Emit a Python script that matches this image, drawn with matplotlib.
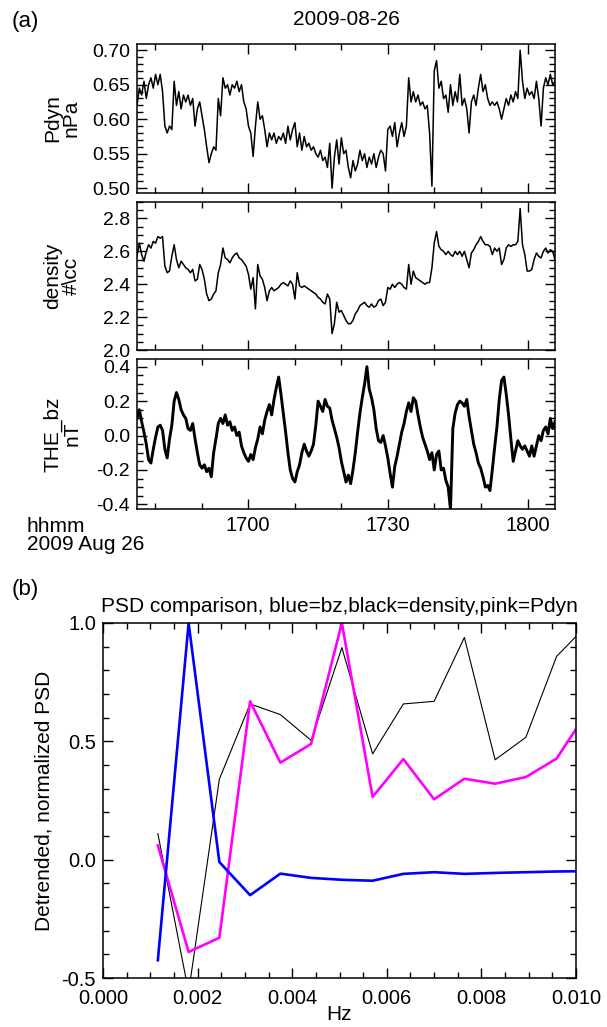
import numpy as np
import matplotlib
matplotlib.use("Agg")
import matplotlib.pyplot as plt
from matplotlib.ticker import MultipleLocator, FixedLocator, FormatStrFormatter

plt.rcParams['font.family'] = ['Liberation Sans', 'DejaVu Sans']
plt.rcParams['axes.unicode_minus'] = False
plt.rcParams['font.size'] = 15

W, H = 607, 1027
FS = 15
TICK_FS = 14.5

# time axis in minutes after 16:00 UT (2009-08-26)
t_start, t_end = 36.15, 125.9
time_ticks = [60, 90, 120]
time_labels = ['1700', '1730', '1800']

pdyn = [0.62, 0.645, 0.635, 0.655, 0.63, 0.65, 0.66, 0.645, 0.665, 0.65,
        0.665, 0.64, 0.59, 0.58, 0.59, 0.585, 0.655, 0.62, 0.64, 0.615,
        0.635, 0.625, 0.635, 0.62, 0.63, 0.59, 0.615, 0.625, 0.605, 0.585,
        0.56, 0.537, 0.55, 0.56, 0.555, 0.63, 0.605, 0.66, 0.645, 0.65,
        0.635, 0.65, 0.645, 0.655, 0.64, 0.65, 0.625, 0.615, 0.59, 0.58,
        0.546, 0.59, 0.625, 0.60, 0.605, 0.585, 0.56, 0.58, 0.57, 0.58,
        0.565, 0.575, 0.57, 0.58, 0.565, 0.59, 0.57, 0.585, 0.595, 0.56,
        0.58, 0.555, 0.575, 0.56, 0.565, 0.555, 0.56, 0.55, 0.545, 0.555,
        0.54, 0.545, 0.53, 0.565, 0.50, 0.545, 0.57, 0.535, 0.573, 0.55,
        0.555, 0.53, 0.515, 0.54, 0.525, 0.535, 0.555, 0.54, 0.55, 0.53,
        0.545, 0.535, 0.55, 0.53, 0.545, 0.555, 0.55, 0.525, 0.585, 0.59,
        0.575, 0.595, 0.56, 0.58, 0.595, 0.575, 0.59, 0.66, 0.625, 0.64,
        0.625, 0.635, 0.62, 0.625, 0.615, 0.62, 0.58, 0.503, 0.67, 0.685,
        0.645, 0.655, 0.63, 0.635, 0.61, 0.65, 0.62, 0.64, 0.625, 0.665,
        0.62, 0.63, 0.615, 0.58, 0.625, 0.635, 0.62, 0.645, 0.665, 0.64,
        0.65, 0.63, 0.62, 0.625, 0.62, 0.625, 0.615, 0.60, 0.615, 0.63,
        0.62, 0.635, 0.625, 0.64, 0.63, 0.70, 0.655, 0.63, 0.645, 0.635,
        0.64, 0.63, 0.655, 0.63, 0.59, 0.645, 0.66, 0.65, 0.665, 0.65,
        0.655]

density = [2.57, 2.65, 2.58, 2.54, 2.60, 2.64, 2.62, 2.66, 2.65, 2.69,
           2.68, 2.69, 2.51, 2.47, 2.48, 2.57, 2.64, 2.55, 2.50, 2.54,
           2.52, 2.50, 2.49, 2.47, 2.49, 2.42, 2.43, 2.52, 2.49, 2.43,
           2.34, 2.30, 2.31, 2.34, 2.36, 2.47, 2.52, 2.62, 2.56, 2.55,
           2.53, 2.56, 2.58, 2.59, 2.56, 2.55, 2.53, 2.51, 2.46, 2.37,
           2.44, 2.25, 2.52, 2.45, 2.43, 2.38, 2.30, 2.36, 2.38, 2.36,
           2.37, 2.38, 2.40, 2.41, 2.40, 2.39, 2.42, 2.40, 2.31, 2.47,
           2.39, 2.38, 2.39, 2.38, 2.37, 2.36, 2.35, 2.34, 2.32, 2.31,
           2.29, 2.28, 2.34, 2.31, 2.10, 2.16, 2.29, 2.23, 2.24, 2.21,
           2.18, 2.16, 2.16, 2.18, 2.22, 2.24, 2.27, 2.28, 2.29, 2.27,
           2.26, 2.28, 2.26, 2.27, 2.30, 2.31, 2.27, 2.29, 2.38, 2.37,
           2.40, 2.38, 2.40, 2.41, 2.40, 2.38, 2.37, 2.52, 2.40, 2.48,
           2.44, 2.43, 2.42, 2.41, 2.40, 2.41, 2.41, 2.50, 2.65, 2.72,
           2.63, 2.61, 2.60, 2.58, 2.60, 2.58, 2.57, 2.60, 2.58, 2.60,
           2.57, 2.60, 2.55, 2.50, 2.59, 2.61, 2.64, 2.66, 2.69, 2.66,
           2.64, 2.64, 2.63, 2.58, 2.62, 2.60, 2.62, 2.52, 2.55, 2.62,
           2.64, 2.63, 2.64, 2.64, 2.66, 2.86, 2.64, 2.58, 2.48, 2.48,
           2.49, 2.55, 2.59, 2.57, 2.56, 2.60, 2.62, 2.59, 2.61, 2.60,
           2.55]

bz = [0.10, 0.15, 0.08, 0.02, -0.05, -0.14, -0.16, -0.08, -0.01, 0.05,
      0.06, 0.03, -0.08, -0.13, -0.02, 0.06, 0.20, 0.25, 0.21, 0.15,
      0.12, 0.10, 0.04, 0.03, 0.07, -0.02, -0.10, -0.17, -0.19, -0.17,
      -0.21, -0.19, -0.24, -0.10, -0.02, 0.07, 0.10, 0.07, 0.12, 0.06,
      0.08, 0.03, 0.05, 0.00, 0.02, -0.06, -0.10, -0.13, -0.15, -0.11,
      -0.14, -0.07, -0.02, 0.05, 0.01, 0.09, 0.14, 0.18, 0.12, 0.21,
      0.28, 0.34, 0.24, 0.13, 0.02, -0.10, -0.20, -0.25, -0.27, -0.21,
      -0.17, -0.10, -0.05, -0.09, -0.12, -0.09, -0.05, 0.06, 0.20, 0.17,
      0.14, 0.21, 0.17, 0.16, 0.09, 0.04, -0.01, -0.07, -0.15, -0.21,
      -0.27, -0.23, -0.28, -0.20, -0.10, 0.02, 0.13, 0.22, 0.30, 0.40,
      0.27, 0.22, 0.15, 0.04, -0.03, -0.04, 0.00, -0.06, -0.13, -0.22,
      -0.30, -0.18, -0.12, -0.05, 0.02, 0.07, 0.14, 0.19, 0.14, 0.22,
      0.20, 0.12, 0.05, -0.01, -0.05, -0.09, -0.14, -0.10, -0.20, -0.11,
      -0.09, -0.20, -0.19, -0.26, -0.30, -0.43, 0.04, 0.13, 0.18, 0.20,
      0.19, 0.17, 0.21, 0.11, 0.03, -0.05, -0.10, -0.16, -0.19, -0.24,
      -0.30, -0.29, -0.32, -0.20, -0.07, 0.05, 0.21, 0.32, 0.34, 0.24,
      0.12, -0.02, -0.15, -0.09, -0.03, -0.06, -0.08, -0.06, -0.09, -0.12,
      -0.06, -0.12, -0.06, 0.00, -0.03, 0.03, 0.05, 0.01, 0.10, 0.04,
      0.08]

# PSD comparison (panel b)
psd_freq = [0.00116, 0.00181, 0.00246, 0.00311, 0.00375, 0.00440, 0.00505,
            0.00570, 0.00635, 0.00700, 0.00764, 0.00829, 0.00894, 0.00959, 0.01000]
psd_bz = [-0.425, 1.0, -0.01, -0.15, -0.059, -0.077, -0.085, -0.089, -0.06,
          -0.053, -0.06, -0.056, -0.053, -0.05, -0.049]
psd_density = [0.11, -0.56, 0.34, 0.658, 0.613, 0.504, 0.896, 0.447, 0.658,
               0.669, 0.939, 0.422, 0.517, 0.859, 0.943]
psd_pdyn = [0.06, -0.39, -0.33, 0.669, 0.41, 0.489, 1.0, 0.265, 0.425,
            0.255, 0.342, 0.321, 0.349, 0.427, 0.552]


def box(left, top, right, bottom):
    return [left / W, 1 - bottom / H, (right - left) / W, (bottom - top) / H]


def style(ax, size=TICK_FS):
    ax.tick_params(which='both', direction='in', top=True, right=True,
                   width=1.0, pad=5, labelsize=size)
    ax.tick_params(which='major', length=7)
    ax.tick_params(which='minor', length=4)
    for s in ax.spines.values():
        s.set_linewidth(1.1)


fig = plt.figure(figsize=(W / 100, H / 100), dpi=100)

t = np.linspace(t_start, t_end, len(pdyn))

panels = [
    (pdyn, 44, 193, (0.493, 0.709), 0.05, 0.01, '%.2f', 'Pdyn\nnPa', 1.1),
    (density, 202, 350, (2.0, 2.9), 0.2, 0.05, '%.1f', 'density\n#\\cc', 1.1),
    (bz, 359, 509, (-0.427, 0.445), 0.2, 0.05, '%.1f', 'THE_bz\nnT', 2.1),
]
axes = []
for vals, top, bottom, ylim, major, minor, fmt, label, lw in panels:
    ax = fig.add_axes(box(137, top, 555, bottom))
    ax.plot(t, vals, color='black', lw=lw)
    ax.set_xlim(t_start, t_end)
    ax.set_ylim(*ylim)
    ax.yaxis.set_major_locator(MultipleLocator(major))
    ax.yaxis.set_minor_locator(MultipleLocator(minor))
    ax.yaxis.set_major_formatter(FormatStrFormatter(fmt))
    ax.xaxis.set_major_locator(FixedLocator(time_ticks))
    ax.xaxis.set_minor_locator(MultipleLocator(10))
    ax.set_xticklabels(time_labels)
    style(ax, 14)
    ax.tick_params(axis='x', labelbottom=False, labelsize=TICK_FS)
    fig.text(62 / W, 1 - (top + bottom) / 2 / H, label, rotation=90,
             ha='center', va='center', fontsize=FS, linespacing=1.0)
    axes.append(ax)

axes[-1].tick_params(axis='x', labelbottom=True)
axes[0].set_title('2009-08-26', fontsize=FS, pad=14)

fig.text(27 / W, 1 - 526 / H, 'hhmm', ha='left', va='center', fontsize=FS)
fig.text(27 / W, 1 - 545 / H, '2009 Aug 26', ha='left', va='center', fontsize=FS)
fig.text(12 / W, 1 - 21 / H, '(a)', ha='left', va='center', fontsize=16)

# panel (b)
axb = fig.add_axes(box(103, 623, 576, 978))
axb.plot(psd_freq, psd_density, color='black', lw=0.8)
axb.plot(psd_freq, psd_pdyn, color='#ff00ff', lw=1.9)
axb.plot(psd_freq, psd_bz, color='#0000ff', lw=1.9)
axb.set_xlim(0.0, 0.010)
axb.set_ylim(-0.5, 1.0)
axb.xaxis.set_major_locator(MultipleLocator(0.002))
axb.xaxis.set_minor_locator(MultipleLocator(0.0005))
axb.xaxis.set_major_formatter(FormatStrFormatter('%.3f'))
axb.yaxis.set_major_locator(MultipleLocator(0.5))
axb.yaxis.set_minor_locator(MultipleLocator(0.1))
axb.yaxis.set_major_formatter(FormatStrFormatter('%.1f'))
style(axb)
axb.tick_params(axis='x', pad=8)
axb.set_title('PSD comparison, blue=bz,black=density,pink=Pdyn', fontsize=FS, pad=8)
axb.set_ylabel('Detrended, normalized PSD', fontsize=FS, labelpad=6)
fig.text((103 + 576) / 2 / W, 1 - 1015 / H, 'Hz', ha='center', va='center', fontsize=FS)
fig.text(12 / W, 1 - 589 / H, '(b)', ha='left', va='center', fontsize=16)

fig.savefig('out.png', dpi=100)
